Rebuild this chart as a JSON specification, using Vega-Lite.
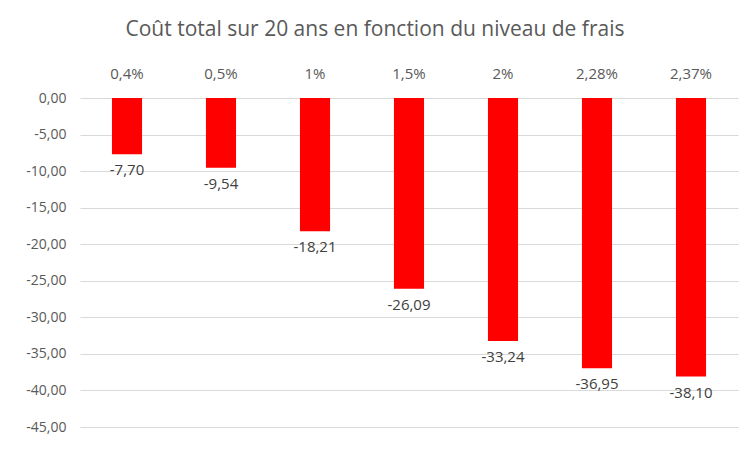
{
  "$schema": "https://vega.github.io/schema/vega-lite/v6.json",
  "width": 658,
  "height": 329,
  "autosize": "none",
  "padding": {"left": 80, "top": 98, "right": 12, "bottom": 24},
  "background": "white",
  "config": {
    "view": {"stroke": null},
    "font": "Open Sans",
    "locale": {"number": {"decimal": ",", "thousands": " ", "grouping": [3], "currency": ["", " €"], "minus": "-"}}
  },
  "title": {
    "text": "Coût total sur 20 ans en fonction du niveau de frais",
    "fontSize": 21,
    "fontWeight": "normal",
    "color": "#595959",
    "font": "Open Sans",
    "offset": 26,
    "dx": -34
  },
  "data": {
    "values": [
      {"frais": "0,4%", "cout": -7.70},
      {"frais": "0,5%", "cout": -9.54},
      {"frais": "1%", "cout": -18.21},
      {"frais": "1,5%", "cout": -26.09},
      {"frais": "2%", "cout": -33.24},
      {"frais": "2,28%", "cout": -36.95},
      {"frais": "2,37%", "cout": -38.10}
    ]
  },
  "encoding": {
    "x": {
      "field": "frais",
      "type": "nominal",
      "sort": null,
      "scale": {"paddingInner": 0.68, "paddingOuter": 0.34},
      "axis": {
        "orient": "top",
        "title": null,
        "domain": false,
        "ticks": false,
        "labelAngle": 0,
        "labelFontSize": 15,
        "labelColor": "#595959",
        "labelPadding": 17
      }
    },
    "y": {
      "field": "cout",
      "type": "quantitative",
      "scale": {"domain": [-45, 0], "nice": false},
      "axis": {
        "title": null,
        "values": [0, -5, -10, -15, -20, -25, -30, -35, -40, -45],
        "format": ".2f",
        "domain": false,
        "ticks": false,
        "labelFontSize": 14,
        "labelColor": "#595959",
        "labelPadding": 14,
        "gridColor": "#d9d9d9",
        "gridWidth": 1
      }
    }
  },
  "layer": [
    {"mark": {"type": "bar", "color": "#ff0000"}},
    {
      "mark": {"type": "text", "baseline": "top", "dy": 9, "fontSize": 15, "color": "#404040"},
      "encoding": {"text": {"field": "cout", "type": "quantitative", "format": ".2f"}}
    }
  ]
}
